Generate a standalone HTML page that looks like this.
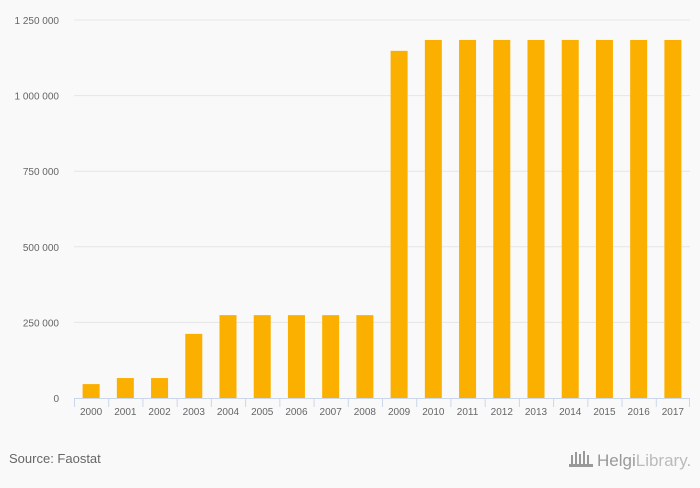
<!DOCTYPE html>
<html><head><meta charset="utf-8"><style>
body{margin:0;background:#f9f9f9;font-family:"Liberation Sans",sans-serif}
svg text{font-family:"Liberation Sans",sans-serif}
</style></head><body>
<svg width="700" height="483" xmlns="http://www.w3.org/2000/svg">
<rect width="700" height="483" fill="#f9f9f9"/>
<g id="grid"></g><g id="bars"></g><g id="axes"></g>
<text x="9" y="463" font-size="13" fill="#666">Source: Faostat</text>
<g>
<g fill="#999"><rect x="571" y="455" width="2" height="11"/><rect x="575" y="452" width="2" height="14"/><rect x="579" y="454" width="2" height="12"/><rect x="583" y="451" width="2" height="15"/><rect x="587" y="455" width="2" height="11"/><rect x="569" y="464" width="24" height="3"/></g>
<text x="597" y="466" font-size="17" fill="#999" font-family="Liberation Serif">Helgi<tspan fill="#bbb">Library.</tspan></text>
</g>
</svg>
<script>
const categories=["2000","2001","2002","2003","2004","2005","2006","2007","2008","2009","2010","2011","2012","2013","2014","2015","2016","2017"];
const values=[46000,66000,66000,212000,274000,274000,274000,274000,274000,1148000,1184000,1184000,1184000,1184000,1184000,1184000,1184000,1184000];
const yTicks=[0,250000,500000,750000,1000000,1250000];
const yTickLabels=["0","250 000","500 000","750 000","1 000 000","1 250 000"];
const NS="http://www.w3.org/2000/svg";
const L=74,R=690,T=20,B=398,MAX=1250000;
const band=(R-L)/categories.length;
function y(v){return B-(v/MAX)*(B-T);}
function x(i){return L+i*band;}
function mk(t,a,p){const e=document.createElementNS(NS,t);for(const k in a)e.setAttribute(k,a[k]);p.appendChild(e);return e;}
const grid=document.getElementById('grid'),bars=document.getElementById('bars'),axes=document.getElementById('axes');
yTicks.forEach((v,i)=>{
 if(v>0){const g=mk('line',{x1:L,x2:R,y1:y(v),y2:y(v),stroke:'#e6e6e6','stroke-width':1},grid);
 
 }
 const t=mk('text',{x:59,y:y(v)+4,'font-size':10,fill:'#666','text-anchor':'end'},axes);
 t.textContent=yTickLabels[i];
 
 
});
const ax=mk('line',{x1:L,x2:R,y1:B+0.5,y2:B+0.5,stroke:'#ccd6eb'},axes);


categories.forEach((c,i)=>{
 const bw=17;
 const r=mk('rect',{x:x(i)+band/2-bw/2,y:y(values[i]),width:bw,height:B-y(values[i]),fill:'#fbb000'},bars);
 
 
 const tk=mk('line',{x1:x(i)+0.5,x2:x(i)+0.5,y1:B,y2:B+9,stroke:'#ccd6eb'},axes);
 
 
 const t=mk('text',{x:x(i)+band/2,y:B+17,'font-size':10,fill:'#666','text-anchor':'middle'},axes);
 t.textContent=c;
 
 
});
const tk=mk('line',{x1:R-0.5,x2:R-0.5,y1:B,y2:B+9,stroke:'#ccd6eb'},axes);


</script>
</body></html>
